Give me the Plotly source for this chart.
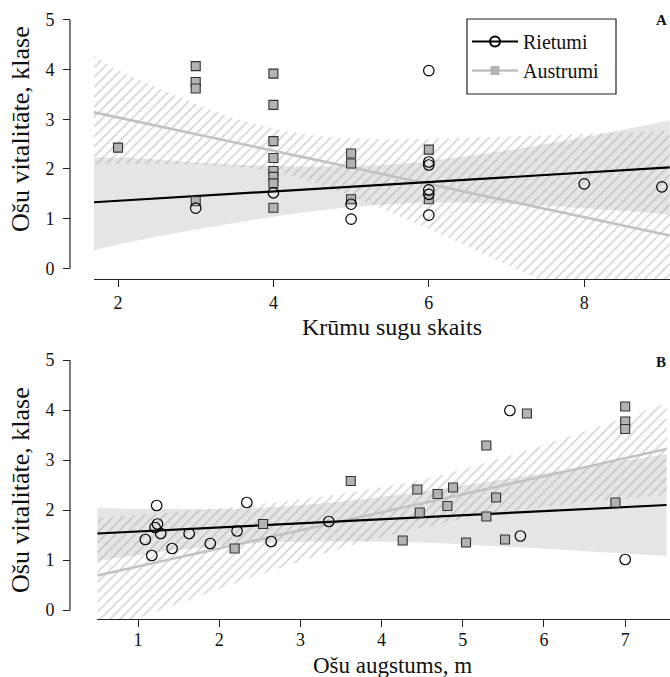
import plotly.graph_objects as go

W, H = 670, 677
FONT = "Liberation Serif"

# ---------------- Panel A data ----------------
a_riet_x = [3, 4, 5, 5, 6, 6, 6, 6, 6, 6, 8, 9]
a_riet_y = [1.21, 1.52, 1.29, 0.99, 3.98, 2.14, 2.08, 1.58, 1.49, 1.07, 1.70, 1.64]
a_aus_x = [2, 3, 3, 3, 3, 4, 4, 4, 4, 4, 4, 4, 4, 5, 5, 5, 6, 6]
a_aus_y = [2.43, 4.07, 3.75, 3.62, 1.35, 3.92, 3.29, 2.56, 2.22, 1.96, 1.84, 1.71, 1.22,
           2.31, 2.11, 1.39, 2.39, 1.39]
a_fit_x = [1.69, 9.10]
a_fit_riet = [1.33, 2.03]
a_fit_aus = [3.14, 0.66]
a_band_x = [1.69, 2.0, 2.5, 3.0, 3.5, 4.0, 4.5, 5.0, 5.5, 6.0, 6.5, 7.0, 7.5, 8.0, 8.5, 9.10]
a_riet_lo = [0.36, 0.48, 0.64, 0.78, 0.91, 1.04, 1.15, 1.23, 1.29, 1.32, 1.32, 1.30, 1.26, 1.21, 1.16, 1.08]
a_riet_hi = [2.23, 2.23, 2.19, 2.13, 2.09, 2.06, 2.05, 2.06, 2.09, 2.16, 2.26, 2.37, 2.50, 2.64, 2.79, 2.98]
a_aus_lo = [2.10, 2.10, 2.10, 2.09, 2.05, 1.94, 1.74, 1.46, 1.13, 0.79, 0.44, 0.07, -0.28, -0.65, -1.02, -1.47]
a_aus_hi = [4.28, 3.99, 3.64, 3.31, 3.02, 2.82, 2.68, 2.62, 2.60, 2.61, 2.63, 2.65, 2.68, 2.71, 2.74, 2.77]
a_xticks = [2, 4, 6, 8]

# ---------------- Panel B data ----------------
b_riet_x = [1.23, 1.24, 1.21, 1.28, 1.09, 1.17, 1.42, 1.63, 1.89, 2.22, 2.34, 2.64, 3.35, 5.58, 5.71, 7.0]
b_riet_y = [2.09, 1.72, 1.65, 1.53, 1.41, 1.09, 1.23, 1.53, 1.33, 1.58, 2.15, 1.37, 1.77, 3.99, 1.48, 1.01]
b_aus_x = [2.19, 2.54, 3.62, 4.26, 4.44, 4.47, 4.69, 4.81, 4.88, 5.04, 5.29, 5.29, 5.41, 5.52,
           5.79, 6.88, 7.0, 7.0, 7.0]
b_aus_y = [1.23, 1.72, 2.58, 1.39, 2.41, 1.95, 2.32, 2.08, 2.45, 1.35, 3.29, 1.87, 2.25, 1.41,
           3.93, 2.15, 4.07, 3.77, 3.62]
b_fit_x = [0.5, 7.51]
b_fit_riet = [1.53, 2.10]
b_fit_aus = [0.69, 3.22]
b_band_x = [0.5, 1.5, 2.5, 3.5, 4.5, 5.5, 6.5, 7.51]
b_riet_lo = [0.98, 1.20, 1.34, 1.37, 1.35, 1.27, 1.18, 1.08]
b_riet_hi = [2.04, 2.02, 2.04, 2.17, 2.37, 2.61, 2.86, 3.12]
b_aus_lo = [-0.46, 0.13, 0.70, 1.23, 1.65, 1.95, 2.15, 2.30]
b_aus_hi = [1.84, 1.97, 2.12, 2.32, 2.61, 3.05, 3.57, 4.14]
b_xticks = [1, 2, 3, 4, 5, 6, 7]

y_ticks = [0, 1, 2, 3, 4, 5]
series_names = ["Rietumi", "Austrumi"]
x_titles = ["Krūmu sugu skaits", "Ošu augstums, m"]
y_title = "Ošu vitalitāte, klase"
panel_labels = ["A", "B"]

GREY_BAND = "#e5e5e5"
HATCH = "#9c9c9c"
AUS_LINE = "#c2c2c2"
SQ_FILL = "#b3b3b3"
SQ_EDGE = "#333333"

fig = go.Figure()


def add_panel(xa, ya, bx, rlo, rhi, alo, ahi, fx, fr, fa, rx, ry, ax_, ay_):
    fig.add_trace(go.Scatter(x=bx, y=rlo, mode="lines", line=dict(width=0, shape="spline"),
                             showlegend=False, hoverinfo="skip", xaxis=xa, yaxis=ya))
    fig.add_trace(go.Scatter(x=bx, y=rhi, mode="lines", line=dict(width=0, shape="spline"),
                             fill="tonexty", fillcolor=GREY_BAND,
                             showlegend=False, hoverinfo="skip", xaxis=xa, yaxis=ya))
    fig.add_trace(go.Scatter(x=bx, y=alo, mode="lines", line=dict(width=0, shape="spline"),
                             showlegend=False, hoverinfo="skip", xaxis=xa, yaxis=ya))
    fig.add_trace(go.Scatter(x=bx, y=ahi, mode="lines", line=dict(width=0, shape="spline"),
                             fill="tonexty", fillcolor="rgba(0,0,0,0)",
                             fillpattern=dict(shape="/", fgcolor=HATCH, bgcolor="rgba(0,0,0,0)",
                                              size=7, solidity=0.2),
                             showlegend=False, hoverinfo="skip", xaxis=xa, yaxis=ya))
    fig.add_trace(go.Scatter(x=fx, y=fa, mode="lines", line=dict(color=AUS_LINE, width=2.6),
                             showlegend=False, hoverinfo="skip", xaxis=xa, yaxis=ya))
    fig.add_trace(go.Scatter(x=fx, y=fr, mode="lines", line=dict(color="black", width=2.2),
                             showlegend=False, hoverinfo="skip", xaxis=xa, yaxis=ya))
    fig.add_trace(go.Scatter(x=ax_, y=ay_, mode="markers",
                             marker=dict(symbol="square", size=9, color=SQ_FILL,
                                         line=dict(color=SQ_EDGE, width=1.1)),
                             showlegend=False, xaxis=xa, yaxis=ya))
    fig.add_trace(go.Scatter(x=rx, y=ry, mode="markers",
                             marker=dict(symbol="circle-open", size=10.5, color="black",
                                         line=dict(color="black", width=1.2)),
                             showlegend=False, xaxis=xa, yaxis=ya))


add_panel("x", "y", a_band_x, a_riet_lo, a_riet_hi, a_aus_lo, a_aus_hi,
          a_fit_x, a_fit_riet, a_fit_aus, a_riet_x, a_riet_y, a_aus_x, a_aus_y)
add_panel("x2", "y2", b_band_x, b_riet_lo, b_riet_hi, b_aus_lo, b_aus_hi,
          b_fit_x, b_fit_riet, b_fit_aus, b_riet_x, b_riet_y, b_aus_x, b_aus_y)

# legend-only traces
fig.add_trace(go.Scatter(x=[None], y=[None], mode="lines+markers", name=series_names[0],
                         line=dict(color="black", width=2.2),
                         marker=dict(symbol="circle-open", size=10, color="black",
                                     line=dict(width=2)), xaxis="x", yaxis="y"))
fig.add_trace(go.Scatter(x=[None], y=[None], mode="lines+markers", name=series_names[1],
                         line=dict(color=AUS_LINE, width=2.6),
                         marker=dict(symbol="square", size=9, color=SQ_FILL,
                                     line=dict(width=0)), xaxis="x", yaxis="y"))


def px_x(p):
    return p / W


def px_y(p):
    return 1 - p / H


tickfont = dict(family=FONT, size=18, color="#111")
common_x = dict(showline=True, linecolor="#222", linewidth=1.2, ticks="outside", ticklen=7,
                tickwidth=1.2, tickcolor="#222", showgrid=False, zeroline=False,
                tickfont=tickfont, automargin=False)
common_y = dict(showline=False, ticks="outside", ticklen=7, tickwidth=1.2, tickcolor="#222",
                showgrid=False, zeroline=False, tickfont=tickfont, tickvals=y_ticks,
                ticklabelstandoff=5, automargin=False, anchor="free", position=px_x(70))

fig.update_layout(
    width=W, height=H, margin=dict(l=0, r=0, t=0, b=0),
    paper_bgcolor="white", plot_bgcolor="white",
    font=dict(family=FONT, color="#111"),
    xaxis=dict(domain=[px_x(94), 1], range=[1.691, 9.104], anchor="y", tickvals=a_xticks,
               ticklabelstandoff=0, **common_x),
    yaxis=dict(domain=[px_y(279), px_y(8)], range=[-0.215, 5.24], **common_y),
    xaxis2=dict(domain=[px_x(97), 1], range=[0.495, 7.552], anchor="y2", tickvals=b_xticks,
                ticklabelstandoff=-3, **common_x),
    yaxis2=dict(domain=[px_y(619), px_y(345)], range=[-0.18, 5.3], **common_y),
    legend=dict(x=px_x(467), y=px_y(22), xanchor="left", yanchor="top",
                borderwidth=0, bgcolor="rgba(0,0,0,0)", traceorder="normal",
                font=dict(family=FONT, size=20, color="#111"), itemwidth=46,
                tracegroupgap=0),
    showlegend=True,
)

shapes = []
for yref in ["y", "y2"]:
    shapes.append(dict(type="line", xref="paper", yref=yref, x0=px_x(70), x1=px_x(70),
                       y0=y_ticks[0], y1=y_ticks[-1], line=dict(color="#222", width=1.2)))
# legend frame
shapes.append(dict(type="rect", xref="paper", yref="paper", x0=px_x(467), x1=px_x(616),
                   y0=px_y(94), y1=px_y(19), line=dict(color="#222", width=1.2),
                   fillcolor="white", layer="above"))
fig.update_layout(shapes=shapes)

ann = []
for lab, py in zip(panel_labels, [20, 362]):
    ann.append(dict(text="<b>%s</b>" % lab, x=px_x(661), y=px_y(py), xref="paper", yref="paper",
                    xanchor="center", yanchor="middle",
                    showarrow=False, font=dict(family=FONT, size=15, color="#111")))
for t, py, fs in zip(x_titles, [327, 665], [24, 23]):
    ann.append(dict(text=t, x=px_x(392), y=px_y(py), xref="paper", yref="paper",
                    xanchor="center", yanchor="middle",
                    showarrow=False, font=dict(family=FONT, size=fs, color="#111")))
for py in [129, 490]:
    ann.append(dict(text=y_title, x=px_x(20), y=px_y(py), xref="paper", yref="paper",
                    xanchor="center", yanchor="middle",
                    showarrow=False, textangle=-90, font=dict(family=FONT, size=26, color="#111")))
fig.update_layout(annotations=ann)

fig.write_html("out.html", config={"displayModeBar": False},
               post_script="document.body.style.margin='0';document.body.style.overflow='hidden';")
